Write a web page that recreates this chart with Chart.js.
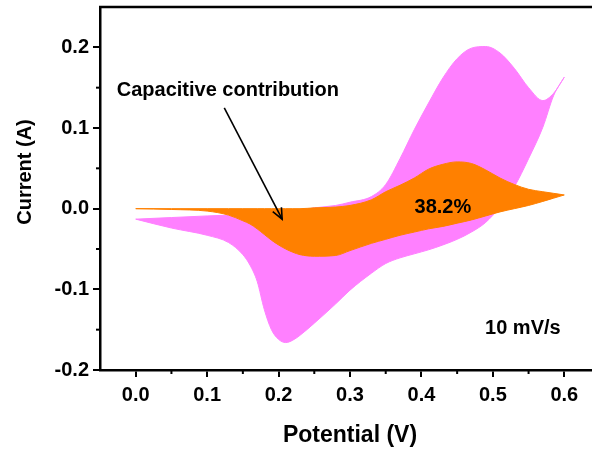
<!DOCTYPE html>
<html>
<head>
<meta charset="utf-8">
<script src="https://cdn.jsdelivr.net/npm/chart.js@4.4.0/dist/chart.umd.min.js"></script>
<style>
  html, body { margin: 0; padding: 0; background: #fff; overflow: hidden; }
  #wrap { width: 592px; height: 449px; overflow: hidden; }
</style>
</head>
<body>
<div id="wrap"><canvas id="cv" width="600" height="449"></canvas></div>
<script>
// potential (V) sample points shared by all branches
const potential = [0.00, 0.05, 0.10, 0.13, 0.15, 0.16, 0.17, 0.18, 0.19, 0.20, 0.21, 0.22, 0.23, 0.25, 0.28,
                   0.30, 0.33, 0.35, 0.37, 0.39, 0.41, 0.43, 0.45, 0.47, 0.49, 0.51, 0.53, 0.55, 0.57, 0.585, 0.60];

// total CV current (A), anodic and cathodic branch
const cvUpper = [-0.013, -0.011, -0.009, -0.008, -0.007, -0.0065, -0.006, -0.0055, -0.005, -0.0045, -0.004, -0.003, -0.002, 0.001, 0.004,
                 0.008, 0.015, 0.030, 0.062, 0.098, 0.131, 0.162, 0.186, 0.199, 0.201, 0.193, 0.174, 0.150, 0.134, 0.143, 0.163];
const cvLower = [-0.013, -0.024, -0.033, -0.042, -0.057, -0.070, -0.090, -0.125, -0.150, -0.162, -0.166, -0.163, -0.157, -0.142, -0.118,
                 -0.101, -0.080, -0.068, -0.061, -0.056, -0.051, -0.045, -0.038, -0.029, -0.017, 0.002, 0.027, 0.062, 0.101, 0.140, 0.163];

// capacitive contribution (A)
const capUpper = [0.000, 0.000, 0.000, 0.000, 0.000, 0.000, 0.000, 0.000, 0.000, 0.000, 0.000, 0.000, 0.000, 0.001, 0.002,
                  0.004, 0.011, 0.021, 0.029, 0.038, 0.049, 0.055, 0.058, 0.056, 0.048, 0.038, 0.030, 0.024, 0.021, 0.019, 0.017];
const capLower = [0.000, -0.001, -0.003, -0.008, -0.015, -0.019, -0.025, -0.032, -0.039, -0.045, -0.050, -0.054, -0.057, -0.059, -0.058,
                  -0.052, -0.043, -0.038, -0.033, -0.029, -0.025, -0.022, -0.018, -0.014, -0.009, -0.004, 0.000, 0.004, 0.009, 0.013, 0.017];

const xTicks = [0.0, 0.1, 0.2, 0.3, 0.4, 0.5, 0.6];
const xMinor = [0.05, 0.15, 0.25, 0.35, 0.45, 0.55];
const yTicks = [-0.2, -0.1, 0.0, 0.1, 0.2];
const yMinor = [-0.15, -0.05, 0.05, 0.15];

const ratioLabel = '38.2%';
const rateLabel = '10 mV/s';
const arrowLabel = 'Capacitive contribution';

const FONT = '"Liberation Sans", Arial, sans-serif';
const MAGENTA = '#ff80ff';
const ORANGE = '#ff8000';

function pts(arr) {
  return potential.map((x, i) => ({ x: x, y: arr[i] }));
}

function fmt(v) {
  if (Math.abs(v) < 1e-9) return '0.0';
  return v.toFixed(1);
}

const extras = {
  id: 'extras',
  afterDraw(chart) {
    const ctx = chart.ctx;
    const xs = chart.scales.x, ys = chart.scales.y;
    const a = chart.chartArea;
    ctx.save();
    ctx.strokeStyle = '#000';
    ctx.fillStyle = '#000';

    // top frame line
    ctx.lineWidth = 2.5;
    ctx.beginPath();
    ctx.moveTo(a.left - 1, a.top);
    ctx.lineTo(a.right, a.top);
    ctx.stroke();

    // minor ticks
    ctx.lineWidth = 2;
    xMinor.forEach(v => {
      const px = xs.getPixelForValue(v);
      ctx.beginPath();
      ctx.moveTo(px, a.bottom);
      ctx.lineTo(px, a.bottom + 4);
      ctx.stroke();
    });
    yMinor.forEach(v => {
      const py = ys.getPixelForValue(v);
      ctx.beginPath();
      ctx.moveTo(a.left, py);
      ctx.lineTo(a.left - 4, py);
      ctx.stroke();
    });

    // y title
    ctx.save();
    ctx.translate(25, 172);
    ctx.rotate(-Math.PI / 2);
    ctx.font = 'bold 20px ' + FONT;
    ctx.textAlign = 'center';
    ctx.textBaseline = 'middle';
    ctx.fillText('Current (A)', 0, 0);
    ctx.restore();

    // labels
    ctx.font = 'bold 20px ' + FONT;
    ctx.textAlign = 'center';
    ctx.textBaseline = 'middle';
    ctx.fillText(arrowLabel, xs.getPixelForValue(0.129), ys.getPixelForValue(0.147));
    ctx.fillText(ratioLabel, xs.getPixelForValue(0.430), ys.getPixelForValue(0.002));
    ctx.fillText(rateLabel, xs.getPixelForValue(0.542), ys.getPixelForValue(-0.149));

    // arrow
    const x0 = xs.getPixelForValue(0.124), y0 = ys.getPixelForValue(0.125);
    const x1 = xs.getPixelForValue(0.205), y1 = ys.getPixelForValue(-0.013);
    ctx.lineWidth = 1.6;
    ctx.beginPath();
    ctx.moveTo(x0, y0);
    ctx.lineTo(x1, y1);
    ctx.stroke();
    const ang = Math.atan2(y1 - y0, x1 - x0);
    const hl = 12, hw = 0.42;
    ctx.beginPath();
    ctx.moveTo(x1 - hl * Math.cos(ang - hw), y1 - hl * Math.sin(ang - hw));
    ctx.lineTo(x1, y1);
    ctx.lineTo(x1 - hl * Math.cos(ang + hw), y1 - hl * Math.sin(ang + hw));
    ctx.stroke();

    ctx.restore();
  }
};

new Chart(document.getElementById('cv'), {
  type: 'line',
  data: {
    datasets: [
      { data: pts(capUpper), borderColor: ORANGE, backgroundColor: ORANGE, borderWidth: 1, fill: '+1' },
      { data: pts(capLower), borderColor: ORANGE, backgroundColor: ORANGE, borderWidth: 1, fill: false },
      { data: pts(cvUpper), borderColor: MAGENTA, backgroundColor: MAGENTA, borderWidth: 1, fill: '+1' },
      { data: pts(cvLower), borderColor: MAGENTA, backgroundColor: MAGENTA, borderWidth: 1, fill: false }
    ]
  },
  options: {
    responsive: false,
    animation: false,
    layout: { padding: { top: 7, right: 0, bottom: 0, left: 0 } },
    elements: {
      point: { radius: 0 },
      line: { cubicInterpolationMode: 'monotone' }
    },
    plugins: { legend: { display: false }, tooltip: { enabled: false } },
    scales: {
      x: {
        type: 'linear',
        min: -0.05,
        max: 0.65,
        afterBuildTicks: s => { s.ticks = xTicks.map(v => ({ value: v })); },
        afterFit: s => { s.height = 79; s.paddingLeft = 0; s.paddingRight = 0; },
        border: { display: true, color: '#000', width: 2.5 },
        grid: { drawOnChartArea: false, color: '#000', lineWidth: 2, tickLength: 7 },
        ticks: {
          color: '#000',
          padding: 6,
          maxRotation: 0,
          font: { family: FONT, size: 20, weight: 'bold' },
          callback: v => fmt(v)
        },
        title: {
          display: true,
          text: 'Potential (V)',
          color: '#000',
          padding: { top: 0, bottom: 0 },
          font: { family: FONT, size: 23, weight: 'bold', lineHeight: 1.2 }
        }
      },
      y: {
        type: 'linear',
        min: -0.2,
        max: 0.25,
        afterBuildTicks: s => { s.ticks = yTicks.map(v => ({ value: v })); },
        afterFit: s => { s.width = 100; s.paddingTop = 0; s.paddingBottom = 0; },
        border: { display: true, color: '#000', width: 2.5 },
        grid: { drawOnChartArea: false, color: '#000', lineWidth: 2, tickLength: 7 },
        ticks: {
          color: '#000',
          padding: 4,
          font: { family: FONT, size: 20, weight: 'bold' },
          callback: v => fmt(v)
        }
      }
    }
  },
  plugins: [extras]
});
</script>
</body>
</html>
